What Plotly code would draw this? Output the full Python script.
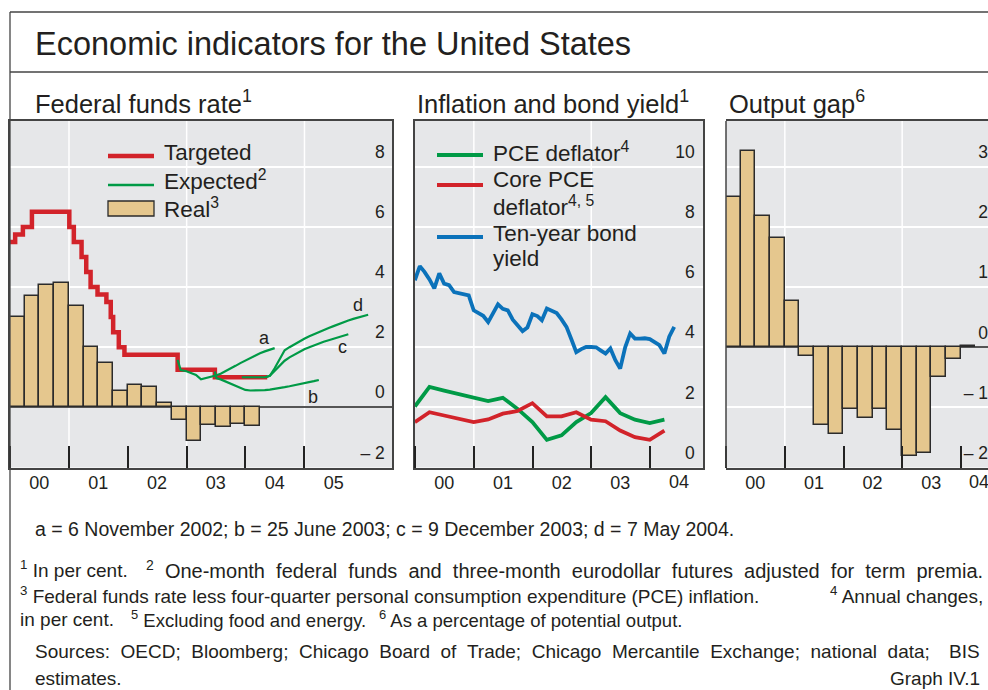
import plotly.graph_objects as go

W, H = 988, 690

# ---------------- data ----------------
# Federal funds target rate (changes), %
target_dates = ["2000-01-01", "2000-02-02", "2000-03-21", "2000-05-16", "2001-01-03", "2001-01-31",
                "2001-03-20", "2001-04-18", "2001-05-15", "2001-06-27", "2001-08-21", "2001-09-17",
                "2001-10-02", "2001-11-06", "2001-12-11", "2002-11-06", "2003-06-25", "2004-05-15"]
target_rate = [5.5, 5.75, 6.0, 6.5, 6.0, 5.5, 5.0, 4.5, 4.0, 3.75, 3.5, 3.0, 2.5, 2.0, 1.75, 1.25, 1.0, 1.0]

# expected paths (futures), %
exp_a_dates = ["2002-11-06", "2002-11-25", "2002-12-31", "2003-01-31", "2003-02-28", "2003-03-31",
               "2003-04-30", "2003-05-31", "2003-06-30", "2003-07-31", "2003-08-31", "2003-09-30",
               "2003-10-31", "2003-11-30", "2003-12-31", "2004-01-31", "2004-02-29", "2004-03-31",
               "2004-04-30", "2004-05-31", "2004-06-30"]
exp_a = [1.58, 1.24, 1.2, 1.15, 1.08, 0.93, 0.97, 1.02, 1.06, 1.12, 1.2, 1.29, 1.38, 1.47, 1.56,
         1.65, 1.72, 1.8, 1.86, 1.92, 1.97]
exp_b_dates = ["2003-06-25", "2003-07-05", "2003-07-31", "2003-08-31", "2003-09-30", "2003-10-31",
               "2003-11-30", "2003-12-31", "2004-01-31", "2004-02-29", "2004-03-31", "2004-04-30",
               "2004-05-31", "2004-06-30", "2004-07-31", "2004-08-31", "2004-09-30", "2004-10-31",
               "2004-11-30", "2004-12-31", "2005-01-31", "2005-02-28", "2005-03-31"]
exp_b = [1.19, 0.97, 0.93, 0.86, 0.8, 0.72, 0.64, 0.58, 0.56, 0.56, 0.56, 0.57, 0.59, 0.61, 0.64,
         0.67, 0.7, 0.73, 0.76, 0.79, 0.83, 0.87, 0.91]
exp_c_dates = ["2003-12-09", "2003-12-31", "2004-01-31", "2004-02-29", "2004-03-31", "2004-04-30",
               "2004-05-31", "2004-06-30", "2004-07-31", "2004-08-31", "2004-09-30", "2004-10-31",
               "2004-11-30", "2004-12-31", "2005-01-31", "2005-02-28", "2005-03-31", "2005-04-30",
               "2005-05-31", "2005-06-30", "2005-07-31", "2005-08-31", "2005-09-30"]
exp_c = [1.0, 1.0, 1.0, 1.0, 1.0, 1.0, 1.05, 1.22, 1.4, 1.55, 1.66, 1.76, 1.85, 1.93, 2.0, 2.06,
         2.12, 2.18, 2.23, 2.28, 2.33, 2.38, 2.43]
exp_d_dates = ["2004-05-07", "2004-05-31", "2004-06-30", "2004-07-31", "2004-08-31", "2004-09-30",
               "2004-10-31", "2004-11-30", "2004-12-31", "2005-01-31", "2005-02-28", "2005-03-31",
               "2005-04-30", "2005-05-31", "2005-06-30", "2005-07-31", "2005-08-31", "2005-09-30",
               "2005-10-31", "2005-11-30", "2005-12-31", "2006-01-31"]
exp_d = [1.0, 1.05, 1.3, 1.6, 1.9, 2.0, 2.1, 2.2, 2.28, 2.36, 2.43, 2.5, 2.57, 2.64, 2.7, 2.77,
         2.83, 2.89, 2.94, 2.99, 3.04, 3.08]

# quarterly bars
quarters = ["2000-01-01", "2000-04-01", "2000-07-01", "2000-10-01", "2001-01-01", "2001-04-01",
            "2001-07-01", "2001-10-01", "2002-01-01", "2002-04-01", "2002-07-01", "2002-10-01",
            "2003-01-01", "2003-04-01", "2003-07-01", "2003-10-01", "2004-01-01"]
real_rate = [2.99, 3.71, 4.08, 4.13, 3.38, 2.02, 1.49, 0.53, 0.73, 0.67, 0.15, -0.42, -1.11,
             -0.6, -0.65, -0.56, -0.62]
output_gap = [2.5, 3.27, 2.19, 1.82, 0.78, -0.15, -1.3, -1.45, -1.03, -1.17, -1.03, -1.37, -1.81,
              -1.76, -0.49, -0.2, 0.03]

# inflation, quarterly (end of quarter), %
pce_dates = ["1999-12-31", "2000-03-31", "2000-06-30", "2000-09-30", "2000-12-31", "2001-03-31",
             "2001-06-30", "2001-09-30", "2001-12-31", "2002-03-31", "2002-06-30", "2002-09-30",
             "2002-12-31", "2003-03-31", "2003-06-30", "2003-09-30", "2003-12-31", "2004-03-31"]
pce = [2.03, 2.68, 2.56, 2.45, 2.33, 2.21, 2.32, 1.95, 1.51, 0.92, 1.07, 1.51, 1.81, 2.34, 1.81,
       1.59, 1.48, 1.59]
core_pce = [1.51, 1.84, 1.73, 1.62, 1.51, 1.6, 1.79, 1.88, 2.14, 1.7, 1.7, 1.84, 1.59, 1.54, 1.23,
            1.01, 0.92, 1.23]

# ten-year bond yield, monthly (end of month), %
bond_dates = ["1999-12-31",
              "2000-01-31", "2000-02-29", "2000-03-31", "2000-04-30", "2000-05-31", "2000-06-30",
              "2000-07-31", "2000-08-31", "2000-09-30", "2000-10-31", "2000-11-30", "2000-12-31",
              "2001-01-31", "2001-02-28", "2001-03-31", "2001-04-30", "2001-05-31", "2001-06-30",
              "2001-07-31", "2001-08-31", "2001-09-30", "2001-10-31", "2001-11-30", "2001-12-31",
              "2002-01-31", "2002-02-28", "2002-03-31", "2002-04-30", "2002-05-31", "2002-06-30",
              "2002-07-31", "2002-08-31", "2002-09-30", "2002-10-31", "2002-11-30", "2002-12-31",
              "2003-01-31", "2003-02-28", "2003-03-31", "2003-04-30", "2003-05-31", "2003-06-30",
              "2003-07-31", "2003-08-31", "2003-09-30", "2003-10-31", "2003-11-30", "2003-12-31",
              "2004-01-31", "2004-02-29", "2004-03-31", "2004-04-30", "2004-05-31"]
bond_yield = [6.23,
              6.70, 6.51, 6.26, 5.96, 6.46, 6.12, 6.07, 5.84, 5.80, 5.76, 5.73, 5.23,
              5.12, 5.05, 4.84, 5.14, 5.43, 5.28, 5.23, 4.92, 4.75, 4.54, 4.66, 5.10,
              5.04, 4.90, 5.29, 5.21, 5.14, 4.93, 4.68, 4.26, 3.84, 3.94, 4.01, 4.01,
              4.00, 3.90, 3.79, 3.96, 3.57, 3.29, 4.00, 4.46, 4.29, 4.29, 4.30, 4.27,
              4.15, 4.07, 3.79, 4.35, 4.68]

# axis ticks
ff_ticks = [-2, 0, 2, 4, 6, 8]
ff_text = ["\u2013 2", "0", "2", "4", "6", "8"]
inf_ticks = [0, 2, 4, 6, 8, 10]
gap_ticks = [-2, -1, 0, 1, 2, 3]
gap_text = ["\u2013 2", "\u2013 1", "0", "1", "2", "3"]

# ---------------- style ----------------
INK = "#231F20"
RED = "#D2232A"
GREEN = "#009A46"
BLUE = "#0B72BA"
TAN = "#E5C78E"
EDGE = "#2B2B2B"
BG = "#E6E7E9"
FRAME = "#444444"
FONT = "Liberation Sans, Arial, sans-serif"
QW = 91 * 24 * 3600 * 1000  # quarter width in ms


def px(x):
    return x / W


def py(y):
    return 1 - y / H


YDOM = [py(467.5), py(121)]

fig = go.Figure()

# --- panel 1: federal funds rate ---
fig.add_trace(go.Bar(x=quarters, y=real_rate, xperiod="M3", xperiodalignment="middle", width=QW,
                     marker=dict(color=TAN, line=dict(color=EDGE, width=1.5)),
                     xaxis="x", yaxis="y", name="Real"))
fig.add_trace(go.Scatter(x=target_dates, y=target_rate, mode="lines", line_shape="hv",
                         line=dict(color=RED, width=4.5), xaxis="x", yaxis="y", name="Targeted"))
for d, v in [(exp_a_dates, exp_a), (exp_b_dates, exp_b), (exp_c_dates, exp_c), (exp_d_dates, exp_d)]:
    fig.add_trace(go.Scatter(x=d, y=v, mode="lines", line=dict(color=GREEN, width=2.2),
                             xaxis="x", yaxis="y", name="Expected"))

# --- panel 2: inflation and bond yield ---
fig.add_trace(go.Scatter(x=pce_dates, y=pce, mode="lines", line=dict(color=GREEN, width=3.8),
                         xaxis="x2", yaxis="y2", name="PCE deflator"))
fig.add_trace(go.Scatter(x=pce_dates, y=core_pce, mode="lines", line=dict(color=RED, width=3.8),
                         xaxis="x2", yaxis="y2", name="Core PCE deflator"))
fig.add_trace(go.Scatter(x=bond_dates, y=bond_yield, mode="lines", line=dict(color=BLUE, width=3.8),
                         xaxis="x2", yaxis="y2", name="Ten-year bond yield"))

# --- panel 3: output gap ---
fig.add_trace(go.Bar(x=quarters, y=output_gap, xperiod="M3", xperiodalignment="middle", width=QW,
                     marker=dict(color=TAN, line=dict(color=EDGE, width=1.5)),
                     xaxis="x3", yaxis="y3", name="Output gap"))


def xdate(dom, rng, anchor):
    # labels sit mid-year (major), tick marks at year boundaries (minor)
    return dict(domain=dom, range=rng, anchor=anchor, type="date", dtick="M12", tick0="2000-07-01",
                tickformat="%y", ticks="", ticklabelstandoff=-2, showgrid=False, zeroline=False,
                showline=True, mirror=True, linecolor=FRAME, linewidth=1.5,
                tickfont=dict(size=18, color=INK),
                minor=dict(dtick="M12", tick0="2000-01-01", ticks="inside", ticklen=22,
                           tickwidth=1.5, tickcolor="#222", showgrid=False),
                fixedrange=True)


def yval(dom, rng, vals, text, anchor, standoff=8, line=True):
    return dict(domain=dom, range=rng, anchor=anchor, side="right", tickvals=vals, ticktext=text,
                ticklabelposition="inside", ticklabelshift=-15, ticklabelstandoff=standoff,
                ticks="", showgrid=True, gridcolor="white", gridwidth=1.5, zeroline=True,
                zerolinecolor="#555", zerolinewidth=1.5, showline=line, mirror=line,
                linecolor=FRAME, linewidth=1.5, tickfont=dict(size=17.5, color=INK), fixedrange=True)


fig.update_layout(
    width=W, height=H, margin=dict(l=0, r=0, t=0, b=0),
    paper_bgcolor="white", plot_bgcolor=BG, showlegend=False, bargap=0,
    font=dict(family=FONT, color=INK),
    xaxis=xdate([px(10), px(392)], ["2000-01-01", "2006-06-28"], "y"),
    yaxis=yval(YDOM, [-2.0, 9.52], ff_ticks, ff_text, "x"),
    xaxis2=xdate([px(415), px(703)], ["2000-01-01", "2004-11-26"], "y2"),
    yaxis2=yval(YDOM, [0, 11.53], inf_ticks, [str(t) for t in inf_ticks], "x2", standoff=9),
    xaxis3=xdate([px(726), 1.0], ["2000-01-01", "2004-06-18"], "y3"),
    yaxis3=yval(YDOM, [-2.0, 3.77], gap_ticks, gap_text, "x3", standoff=-3, line=False),
)

shapes = []
# vertical grid lines every second year
for xr, yr, yrs in [("x", "y domain", ["2001-01-01", "2003-01-01", "2005-01-01"]),
                    ("x2", "y2 domain", ["2001-01-01", "2003-01-01"]),
                    ("x3", "y3 domain", ["2001-01-01", "2003-01-01"])]:
    for g in yrs:
        shapes.append(dict(type="line", xref=xr, yref=yr, x0=g, x1=g, y0=0, y1=1,
                           line=dict(color="white", width=1.5), layer="below"))
# left edge of output-gap panel
shapes.append(dict(type="line", xref="x3 domain", yref="y3 domain", x0=0, x1=0, y0=0, y1=1,
                   line=dict(color=FRAME, width=1.5)))
# outer frame
for x0, y0, x1, y1 in [(10, 12, 988, 12), (10, 72, 988, 72), (10, 12, 10, 690)]:
    shapes.append(dict(type="line", xref="paper", yref="paper", x0=px(x0), x1=px(x1),
                       y0=py(y0), y1=py(y1), line=dict(color=FRAME, width=1.3)))
# legend swatches, panel 1
shapes.append(dict(type="line", xref="paper", yref="paper", x0=px(108), x1=px(154),
                   y0=py(156), y1=py(156), line=dict(color=RED, width=4.5)))
shapes.append(dict(type="line", xref="paper", yref="paper", x0=px(108), x1=px(154),
                   y0=py(185), y1=py(185), line=dict(color=GREEN, width=2.5)))
shapes.append(dict(type="rect", xref="paper", yref="paper", x0=px(108), x1=px(154),
                   y0=py(201), y1=py(216), fillcolor=TAN, line=dict(color=EDGE, width=1.3)))
# legend swatches, panel 2
for yy, c in [(155, GREEN), (185, RED), (237, BLUE)]:
    shapes.append(dict(type="line", xref="paper", yref="paper", x0=px(437), x1=px(483),
                       y0=py(yy), y1=py(yy), line=dict(color=c, width=3.8)))

ann = []


def text(x, y, s, size, anchor="left", yanchor="middle"):
    ann.append(dict(x=px(x), y=py(y), xref="paper", yref="paper", text=s, showarrow=False,
                    xanchor=anchor, yanchor=yanchor, font=dict(size=size, color=INK)))


def spread(s, extra="\u00a0"):
    # widen word gaps so the line fills the justified measure of the original
    return s.replace(" ", " " + extra)


text(33, 44, "Economic indicators for the United States", 32.5)
text(33, 102, "Federal funds rate<sup>1</sup>", 25.5)
text(415, 102, "Inflation and bond yield<sup>1</sup>", 25.5)
text(727, 102, "Output gap<sup>6</sup>", 25.5)

text(162, 152, "Targeted", 22.5)
text(162, 180, "Expected<sup>2</sup>", 22.5)
text(162, 208, "Real<sup>3</sup>", 22.5)
text(491, 152, "PCE deflator<sup>4</sup>", 22.5)
text(491, 179, "Core PCE", 22.5)
text(491, 206, "deflator<sup>4, 5</sup>", 22.5)
text(491, 233, "Ten-year bond", 22.5)
text(491, 258, "yield", 22.5)

# labels of expected paths (data coordinates)
for s, xd, yv in [("a", "2004-05-01", 2.3), ("b", "2005-02-20", 0.35),
                  ("c", "2005-08-27", 2.0), ("d", "2005-11-28", 3.4)]:
    ann.append(dict(x=xd, y=yv, xref="x", yref="y", text=s, showarrow=False,
                    font=dict(size=18, color=INK)))

# last year labels: plotly drops the one in the middle panel (next to the inside y labels),
# and the output gap one lies past the page edge
ann.append(dict(x="2004-07-01", y=py(482), xref="x2", yref="paper", text="04", showarrow=False,
                xanchor="center", yanchor="middle", font=dict(size=18, color=INK)))
text(979, 482, "04", 18, anchor="center")

text(33, 529, "a = 6 November 2002; b = 25 June 2003; c = 9 December 2003; d = 7 May 2004.", 19.5)
text(18, 569, "<sup>1</sup> In per cent.", 19)
text(985, 569, spread("<sup>2</sup> One-month federal funds and three-month eurodollar futures "
                      "adjusted for term premia."), 20, anchor="right")
text(18, 595, "<sup>3</sup> Federal funds rate less four-quarter personal consumption expenditure "
     "(PCE) inflation.", 19)
text(985, 595, "<sup>4</sup> Annual changes,", 19, anchor="right")
text(18, 619, "in per cent.", 19)
text(129, 619, "<sup>5</sup> Excluding food and energy.", 18.5)
text(377, 619, "<sup>6</sup> As a percentage of potential output.", 18.5)
text(33, 651, spread("Sources: OECD; Bloomberg; Chicago Board of Trade; Chicago Mercantile "
                     "Exchange; national data;"), 19)
text(982, 651, "BIS", 19, anchor="right")
text(33, 678, "estimates.", 19)
text(982, 678, "Graph IV.1", 19, anchor="right")

fig.update_layout(shapes=shapes, annotations=ann)

# the page body has a default 8 px margin; drop it so the figure fills the window exactly
fig.write_html("out.html", config={"displayModeBar": False},
               post_script="document.body.style.margin='0';document.body.style.overflow='hidden';")
